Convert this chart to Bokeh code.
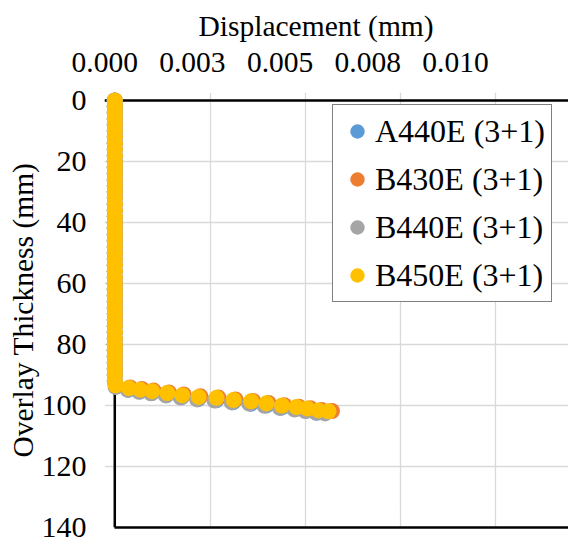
from bokeh.plotting import figure
from bokeh.models import (Range1d, LinearAxis, FixedTicker, Grid, Legend, LegendItem,
                          ColumnDataSource, Span)
from bokeh.embed import file_html
from bokeh.resources import INLINE

# ---------------- data ----------------
SERIES_NAMES = ["A440E (3+1)", "B430E (3+1)", "B440E (3+1)", "B450E (3+1)"]
SERIES_COLORS = ["#5B9BD5", "#ED7D31", "#A5A5A5", "#FFC000"]

# upper (undisplaced) part of the profile, shared by all series
UPPER_DEPTH = [0, 2, 4, 6, 8, 10, 12, 14, 16, 18, 20, 22, 24, 26, 28, 30, 32, 34, 36, 38,
               40, 42, 44, 46, 48, 50, 52, 54, 56, 58, 60, 62, 64, 66, 68, 70, 72, 74, 76,
               78, 80, 82, 84, 86, 88, 90, 92]
UPPER_DISP = [0.0, 0.0, 0.0, 0.0, 0.0, 0.0, 0.0, 0.0, 0.0, 0.0, 0.0, 0.0, 0.0, 0.0, 0.0,
              0.0, 0.0, 0.0, 0.0, 0.0, 0.0, 0.0, 0.0, 0.0, 0.0, 0.0, 0.0, 0.0, 0.0, 0.0,
              0.0, 0.0, 0.0, 0.0, 0.0, 0.0, 0.0, 0.0, 0.0, 0.0, 0.0, 0.0, 0.0, 0.0, 0.0,
              0.0, 0.0]

# lower (displaced) part, per series
A440E_DISP = [0.00003, 0.00036, 0.00066, 0.00097, 0.00136, 0.00176, 0.00219, 0.00266,
              0.00311, 0.00357, 0.00397, 0.00437, 0.00474, 0.00503, 0.00530]
A440E_DEPTH = [93.8, 94.8, 95.4, 95.9, 96.6, 97.2, 97.9, 98.3, 98.9, 99.4, 100.0, 100.7,
               101.2, 101.7, 102.4]

B430E_DISP = [0.00003, 0.00040, 0.00071, 0.00102, 0.00142, 0.00181, 0.00225, 0.00272,
              0.00317, 0.00363, 0.00404, 0.00445, 0.00483, 0.00513, 0.00543, 0.00570]
B430E_DEPTH = [93.3, 94.1, 94.6, 95.1, 95.7, 96.4, 97.0, 97.4, 98.0, 98.5, 99.2, 99.9,
               100.4, 100.9, 101.5, 101.8]

B440E_DISP = [0.00002, 0.00034, 0.00064, 0.00095, 0.00134, 0.00173, 0.00216, 0.00262,
              0.00307, 0.00353, 0.00393, 0.00433, 0.00471, 0.00500, 0.00528, 0.00552]
B440E_DEPTH = [93.9, 94.9, 95.5, 96.0, 96.7, 97.4, 98.0, 98.4, 99.0, 99.4, 100.1, 100.8,
               101.3, 101.8, 102.3, 102.6]

B450E_DISP = [0.00002, 0.00037, 0.00067, 0.00098, 0.00138, 0.00177, 0.00220, 0.00267,
              0.00312, 0.00358, 0.00398, 0.00439, 0.00477, 0.00506, 0.00535, 0.00561]
B450E_DEPTH = [93.4, 94.3, 94.8, 95.3, 95.9, 96.6, 97.2, 97.5, 98.2, 98.6, 99.3, 100.0,
               100.5, 101.0, 101.6, 101.9]

X_TICKS = [0.0, 0.0025, 0.005, 0.0075, 0.01]
X_TICK_LABELS = ["0.000", "0.003", "0.005", "0.008", "0.010"]
Y_TICKS = [0, 20, 40, 60, 80, 100, 120, 140]

LOWER = [(A440E_DISP, A440E_DEPTH), (B430E_DISP, B430E_DEPTH),
         (B440E_DISP, B440E_DEPTH), (B450E_DISP, B450E_DEPTH)]

# ---------------- figure ----------------
FONT = "Liberation Serif"
X_MAX = 0.011908

p = figure(width=568, height=544, x_range=Range1d(-0.00027, X_MAX),
           y_range=Range1d(140, -2.62),
           x_axis_type=None, y_axis_type=None,
           output_backend="svg", toolbar_location=None,
           min_border_left=104, min_border_right=0, min_border_top=92, min_border_bottom=17)
p.background_fill_color = "white"
p.border_fill_color = "white"
p.outline_line_color = None

# x-axis title (placed through the plot title slot so it can be positioned)
p.title.text = "Displacement (mm)"
p.title.align = "left"
p.title.offset = 94
p.title.text_font = FONT
p.title.text_font_size = "29.5px"
p.title.text_font_style = "normal"
p.title.text_color = "black"
p.title.standoff = 15

# tick-label axis on top
p.extra_x_ranges = {"lab": Range1d(-0.0000057, 0.013221)}
xaxis = LinearAxis(x_range_name="lab", ticker=FixedTicker(ticks=X_TICKS),
                   major_label_overrides={t: s for t, s in zip(X_TICKS, X_TICK_LABELS)})
xaxis.major_label_text_font = FONT
xaxis.major_label_text_font_size = "29.5px"
xaxis.major_label_text_color = "black"
xaxis.major_label_standoff = 21
xaxis.major_tick_out = 0
xaxis.major_tick_in = 0
xaxis.minor_tick_out = 0
xaxis.minor_tick_in = 0
xaxis.axis_line_color = None
p.add_layout(xaxis, "above")

# bottom frame line
bottom = LinearAxis(ticker=FixedTicker(ticks=[]), bounds=(0, X_MAX))
bottom.axis_line_color = "black"
bottom.axis_line_width = 2.5
bottom.major_tick_out = 0
bottom.major_tick_in = 0
bottom.minor_tick_out = 0
bottom.minor_tick_in = 0
p.add_layout(bottom, "below")

yaxis = LinearAxis(ticker=FixedTicker(ticks=Y_TICKS), axis_label="Overlay Thickness (mm)")
yaxis.major_label_text_font = FONT
yaxis.major_label_text_font_size = "30px"
yaxis.major_label_text_color = "black"
yaxis.major_label_standoff = 18
yaxis.major_tick_out = 0
yaxis.major_tick_in = 0
yaxis.minor_tick_out = 0
yaxis.minor_tick_in = 0
yaxis.axis_line_color = None
yaxis.axis_label_text_font = FONT
yaxis.axis_label_text_font_size = "29.5px"
yaxis.axis_label_text_font_style = "normal"
yaxis.axis_label_text_color = "black"
yaxis.axis_label_standoff = 0
p.add_layout(yaxis, "left")

p.add_layout(Grid(dimension=0, ticker=FixedTicker(ticks=X_TICKS),
                  grid_line_color="#d9d9d9", grid_line_width=1.3))
p.add_layout(Grid(dimension=1, ticker=FixedTicker(ticks=Y_TICKS),
                  grid_line_color="#d9d9d9", grid_line_width=1.3))

# left and top frame lines (drawn beneath the markers)
p.add_layout(Span(location=0, dimension="height", line_color="black", line_width=2.5,
                  level="underlay"))
p.add_layout(Span(location=0, dimension="width", line_color="black", line_width=2.5,
                  level="underlay"))

items = []
for name, color, (dx, dy) in zip(SERIES_NAMES, SERIES_COLORS, LOWER):
    src = ColumnDataSource(data=dict(x=UPPER_DISP + dx, y=UPPER_DEPTH + dy))
    r = p.scatter("x", "y", source=src, size=16, fill_color=color, line_color=None,
                  marker="circle")
    items.append(LegendItem(label=name, renderers=[r]))

legend = Legend(items=items, location=(228, 225))
legend.label_text_font = FONT
legend.label_text_font_size = "32px"
legend.label_text_color = "black"
legend.glyph_width = 36
legend.glyph_height = 40
legend.label_height = 36
legend.spacing = 8
legend.padding = 6
legend.margin = 0
legend.label_standoff = 0
legend.border_line_color = "black"
legend.border_line_width = 1.5
legend.background_fill_color = "white"
legend.background_fill_alpha = 1.0
p.add_layout(legend, "center")

open("out.html", "w").write(file_html(p, INLINE))
